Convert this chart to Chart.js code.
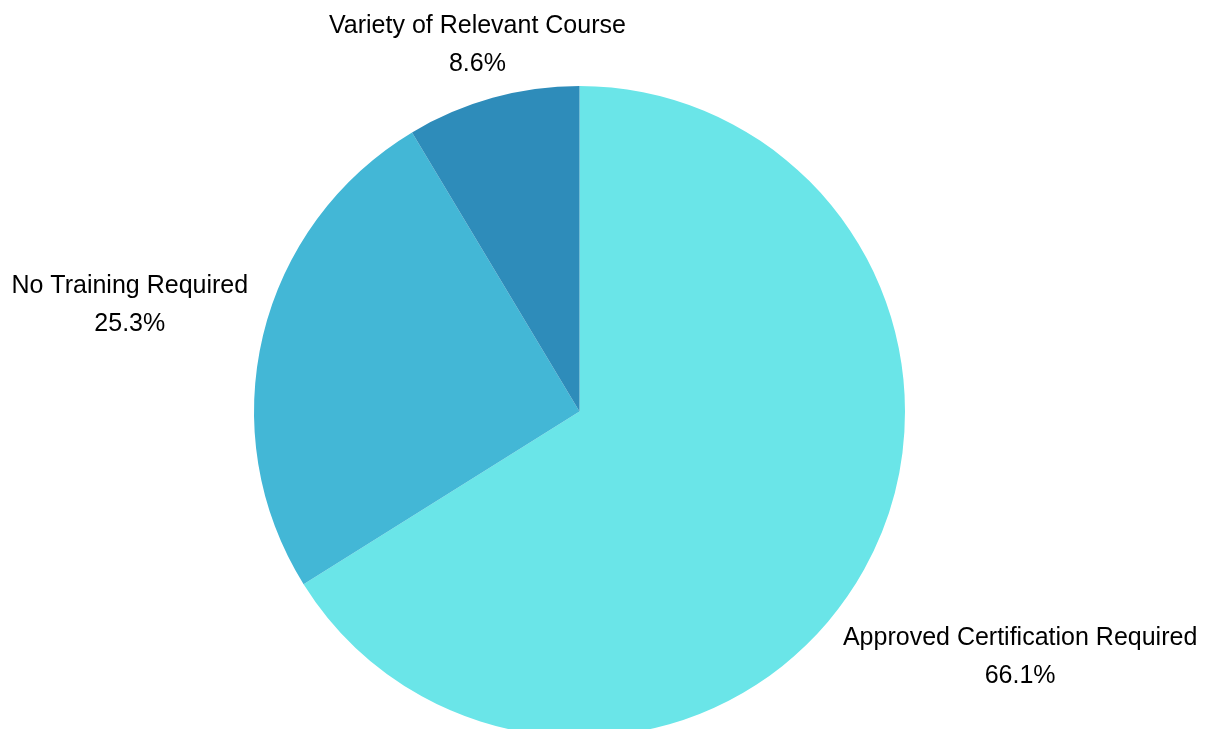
<!DOCTYPE html>
<html>
<head>
<meta charset="utf-8">
<script src="https://cdn.jsdelivr.net/npm/chart.js@4/dist/chart.umd.min.js"></script>
<style>
  html, body { margin: 0; padding: 0; background: #ffffff; overflow: hidden; }
  #wrap { width: 1219px; height: 729px; overflow: hidden; position: relative; }
  #wrap canvas { display: block; }
</style>
</head>
<body>
<div id="wrap"><canvas id="c" width="1219" height="760"></canvas></div>
<script>
const categories = ["Approved Certification Required", "No Training Required", "Variety of Relevant Course"];
const shares = [66.1, 25.3, 8.6];
const sliceColors = ["#6ae5e8", "#43b7d6", "#2e8cba"];

const FONT = '25px "Liberation Sans", Arial, Helvetica, sans-serif';
const LINE_GAP = 38;
const CAP_H = 17;
const CLEARANCE = 15.5;

const outsideLabels = {
  id: 'outsideLabels',
  afterDatasetsDraw(chart) {
    const ctx = chart.ctx;
    const meta = chart.getDatasetMeta(0);
    const data = chart.data.datasets[0].data;
    const total = data.reduce((a, b) => a + b, 0);
    ctx.save();
    ctx.font = FONT;
    ctx.fillStyle = '#000000';
    ctx.textAlign = 'center';
    ctx.textBaseline = 'alphabetic';
    meta.data.forEach((arc, i) => {
      const p = arc.getProps(['x', 'y', 'startAngle', 'endAngle', 'outerRadius'], true);
      const mid = (p.startAngle + p.endAngle) / 2;
      const dx = Math.cos(mid), dy = Math.sin(mid);
      const l1 = chart.data.labels[i];
      const l2 = (data[i] / total * 100).toFixed(1) + '%';
      const w = Math.max(ctx.measureText(l1).width, ctx.measureText(l2).width);
      const h = CAP_H + LINE_GAP;
      const target = p.outerRadius + CLEARANCE;
      const minDist = (D) => {
        const cx = D * dx, cy = D * dy;
        const nx = Math.max(Math.abs(cx) - w / 2, 0);
        const ny = Math.max(Math.abs(cy) - h / 2, 0);
        return Math.hypot(nx, ny);
      };
      let lo = 0, hi = 2000;
      for (let k = 0; k < 60; k++) {
        const m = (lo + hi) / 2;
        if (minDist(m) < target) lo = m; else hi = m;
      }
      const bx = p.x + hi * dx, by = p.y + hi * dy;
      const top = by - h / 2;
      ctx.fillText(l1, bx, top + CAP_H);
      ctx.fillText(l2, bx, top + CAP_H + LINE_GAP);
    });
    ctx.restore();
  }
};

new Chart(document.getElementById('c'), {
  type: 'pie',
  data: {
    labels: categories,
    datasets: [{
      data: shares,
      backgroundColor: sliceColors,
      borderWidth: 0
    }]
  },
  options: {
    responsive: false,
    animation: false,
    layout: { padding: { left: 254, right: 314, top: 86, bottom: 23 } },
    plugins: { legend: { display: false }, tooltip: { enabled: false } }
  },
  plugins: [outsideLabels]
});
</script>
</body>
</html>
